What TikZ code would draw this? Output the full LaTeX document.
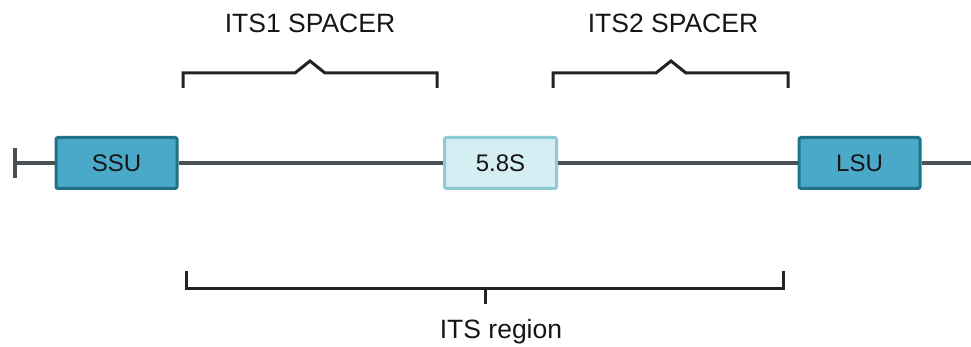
\documentclass[tikz,border=0pt]{standalone}
\usepackage{fontspec}
\setmainfont{Liberation Sans}
\definecolor{strand}{HTML}{4B5054}
\definecolor{brk}{HTML}{222222}
\definecolor{rnafill}{HTML}{4AA9C8}
\definecolor{rnaedge}{HTML}{1E7389}
\definecolor{lightfill}{HTML}{D5EEF3}
\definecolor{lightedge}{HTML}{8DCAD6}
\definecolor{ink}{HTML}{151515}
\begin{document}
\begin{tikzpicture}[x=1pt,y=-1pt,
  gene/.style={draw=rnaedge,fill=rnafill,line width=3pt,rounded corners=2pt,
    minimum width=121pt,minimum height=51pt,inner sep=0pt,text=ink,
    font=\fontsize{24}{24}\selectfont},
  minor/.style={gene,draw=lightedge,fill=lightfill,minimum width=112pt},
  strandline/.style={draw=strand,line width=4.5pt},
  bracket/.style={draw=brk,line width=3pt},
  label/.style={text=ink,font=\fontsize{26.5}{26.5}\selectfont,inner sep=0pt,anchor=base}]
\useasboundingbox (0,0) rectangle (971,347);

% DNA strand with the start tick
\coordinate (tick) at (15,163);
\coordinate (tickT) at (15,148);
\coordinate (tickB) at (15,178);
\coordinate (end) at (971,163);
\node[gene] (ssu) at (116.5,163) {SSU};
\node[minor] (s58) at (500.5,163) {5.8S};
\node[gene] (lsu) at (859.5,163) {LSU};
\draw[strandline] (tick) -- (ssu.west);
\draw[strandline] (ssu.east) -- (s58.west);
\draw[strandline] (s58.east) -- (lsu.west);
\draw[strandline] (lsu.east) -- (end);
\draw[draw=strand,line width=4pt] (tickT) -- (tickB);

% ITS1 spacer bracket
\coordinate (a1) at (183,88);
\coordinate (b1) at (437,88);
\draw[bracket] (a1) |- (295,73) -- (310,61) -- (325,73) -| (b1);
\node[label] (its1) at (310,33) {ITS1 SPACER};

% ITS2 spacer bracket
\coordinate (a2) at (553,88);
\coordinate (b2) at (788,88);
\draw[bracket] (a2) |- (656,73) -- (671,61) -- (686,73) -| (b2);
\node[label] (its2) at (673,33) {ITS2 SPACER};

% whole ITS region bracket
\coordinate (a3) at (186,271);
\coordinate (b3) at (783,271);
\coordinate (mid) at (485,288);
\coordinate (midT) at (485,304);
\draw[bracket] (a3) |- (mid) -| (b3);
\draw[bracket] (mid) -- (midT);
\node[label] (itsr) at (501,338) {ITS region};
\end{tikzpicture}
\end{document}
